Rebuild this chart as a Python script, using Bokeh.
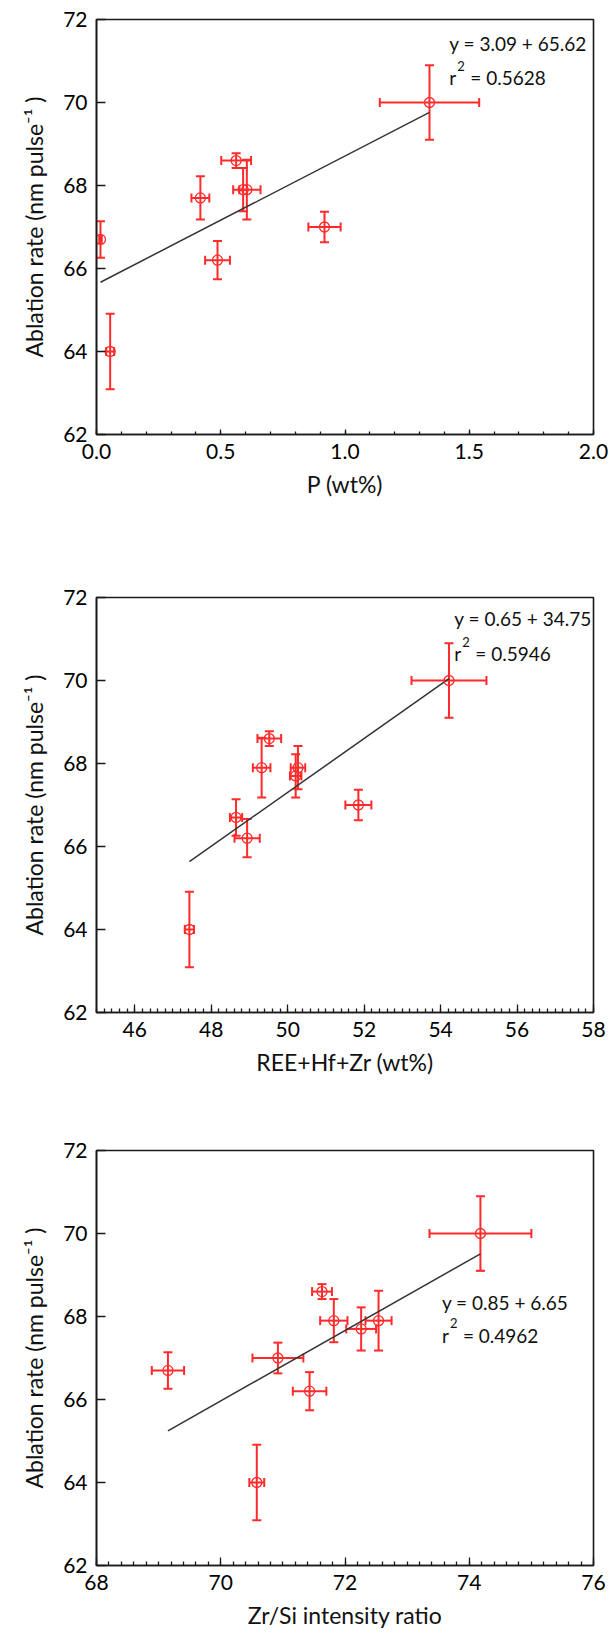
import numpy as np
from bokeh.plotting import figure
from bokeh.layouts import column
from bokeh.models import (ColumnDataSource, Whisker, TeeHead, SingleIntervalTicker,
                          Range1d, Label, PrintfTickFormatter)
from bokeh.embed import file_html
from bokeh.resources import INLINE

# ---------------- data ----------------
ablation_rate = [70.0, 68.6, 67.9, 67.9, 67.7, 67.0, 66.7, 66.2, 64.0]
ablation_err = [0.90, 0.18, 0.52, 0.72, 0.52, 0.37, 0.44, 0.46, 0.91]

p_wt = [1.34, 0.562, 0.59, 0.605, 0.418, 0.9175, 0.016, 0.487, 0.055]
p_wt_err = [0.20, 0.06, 0.015, 0.055, 0.036, 0.065, 0.005, 0.05, 0.016]

ree_hf_zr = [54.22, 49.52, 50.27, 49.32, 50.21, 51.85, 48.65, 48.94, 47.43]
ree_hf_zr_err = [0.98, 0.31, 0.19, 0.23, 0.15, 0.34, 0.16, 0.33, 0.12]

zr_si = [74.18, 71.63, 71.82, 72.54, 72.26, 70.92, 69.15, 71.43, 70.58]
zr_si_err = [0.82, 0.16, 0.22, 0.21, 0.24, 0.41, 0.26, 0.27, 0.12]

eq_texts = ["y = 3.09 + 65.62", "y = 0.65 + 34.75", "y = 0.85 + 6.65"]
r2_texts = ["= 0.5628", "= 0.5946", "= 0.4962"]
x_titles = ["P (wt%)", "REE+Hf+Zr (wt%)", "Zr/Si intensity ratio"]
y_title = "Ablation rate (nm pulse\u207b\u00b9 )"

RED = "#ff2b2b"
INK = "#1a1a1a"
FONT = "Lato"


def make_panel(xv, xe, xr, interval, nminor, fmt, xtitle, eq, r2, lab_x, lab_y1, lab_y2,
               height, top, bottom, maj_in, min_in):
    p = figure(width=611, height=height, x_range=Range1d(*xr), y_range=Range1d(62, 72),
               output_backend="svg", toolbar_location=None,
               min_border_left=96, min_border_right=18,
               min_border_top=top, min_border_bottom=bottom)
    p.background_fill_color = "white"
    p.border_fill_color = "white"
    p.outline_line_color = INK
    p.outline_line_width = 1.6
    p.xgrid.grid_line_color = None
    p.ygrid.grid_line_color = None

    # x axis
    xa = p.xaxis[0]
    xa.ticker = SingleIntervalTicker(interval=interval, num_minor_ticks=nminor)
    xa.formatter = PrintfTickFormatter(format=fmt)
    xa.major_tick_in = maj_in
    xa.major_tick_out = 0
    xa.minor_tick_in = min_in
    xa.minor_tick_out = 0
    xa.major_label_standoff = 9
    xa.axis_label = xtitle
    xa.axis_label_standoff = 8

    # y axis
    ya = p.yaxis[0]
    ya.ticker = SingleIntervalTicker(interval=2, num_minor_ticks=0)
    ya.major_tick_in = 9
    ya.major_tick_out = 0
    ya.major_label_standoff = 9
    ya.axis_label = y_title
    ya.axis_label_standoff = 12

    for ax in (xa, ya):
        ax.axis_line_color = INK
        ax.axis_line_width = 1.6
        ax.major_tick_line_color = INK
        ax.major_tick_line_width = 1.3
        ax.minor_tick_line_width = 1.3
        ax.major_label_text_font = FONT
        ax.major_label_text_font_size = "21px"
        ax.major_label_text_color = "black"
        ax.axis_label_text_font = FONT
        ax.axis_label_text_font_size = "23px"
        ax.axis_label_text_font_style = "normal"
        ax.axis_label_text_color = "#111111"
    xa.minor_tick_line_color = INK
    ya.minor_tick_line_color = None

    xv = np.asarray(xv, dtype=float)
    xe = np.asarray(xe, dtype=float)
    yv = np.asarray(ablation_rate, dtype=float)
    ye = np.asarray(ablation_err, dtype=float)
    src = ColumnDataSource(dict(x=xv, y=yv, xl=xv - xe, xu=xv + xe, yl=yv - ye, yu=yv + ye))

    # regression line from the data (least squares), drawn across the data span
    slope, intercept = np.polyfit(xv, yv, 1)
    lx = np.array([xv.min(), xv.max()])
    p.line(lx, intercept + slope * lx, line_color="#333333", line_width=1.5)

    for dim, base, lo, hi in (("height", "x", "yl", "yu"), ("width", "y", "xl", "xu")):
        w = Whisker(source=src, base=base, lower=lo, upper=hi, dimension=dim,
                    line_color=RED, line_width=2,
                    upper_head=TeeHead(size=9, line_color=RED, line_width=2),
                    lower_head=TeeHead(size=9, line_color=RED, line_width=2))
        p.add_layout(w)

    p.scatter("x", "y", source=src, marker="circle", size=10, fill_color=None,
              line_color=RED, line_width=1.3)

    common = dict(text_font=FONT, text_color="#111111", text_baseline="middle", text_align="left")
    p.add_layout(Label(x=lab_x, y=lab_y1, text=eq, text_font_size="19px", **common))
    p.add_layout(Label(x=lab_x, y=lab_y2, text="r", text_font_size="19px", **common))
    p.add_layout(Label(x=lab_x, y=lab_y2, text="2", text_font_size="13px",
                       x_offset=8, y_offset=12, **common))
    p.add_layout(Label(x=lab_x, y=lab_y2, text=r2, text_font_size="19px",
                       x_offset=21, **common))
    return p


p1 = make_panel(p_wt, p_wt_err, (0, 2), 0.5, 5, "%.1f", x_titles[0], eq_texts[0], r2_texts[0],
                1.42, 71.42, 70.6, 540, 19, 106, 5, 3)
p2 = make_panel(ree_hf_zr, ree_hf_zr_err, (45, 58), 2, 10, "%d", x_titles[1], eq_texts[1], r2_texts[1],
                54.36, 71.49, 70.65, 560, 57, 88, 8, 4)
p3 = make_panel(zr_si, zr_si_err, (68, 76), 2, 10, "%d", x_titles[2], eq_texts[2], r2_texts[2],
                73.56, 68.34, 67.55, 533, 50, 68, 8, 4)

layout = column(p1, p2, p3, spacing=0)
open("out.html", "w").write(file_html(layout, INLINE))
